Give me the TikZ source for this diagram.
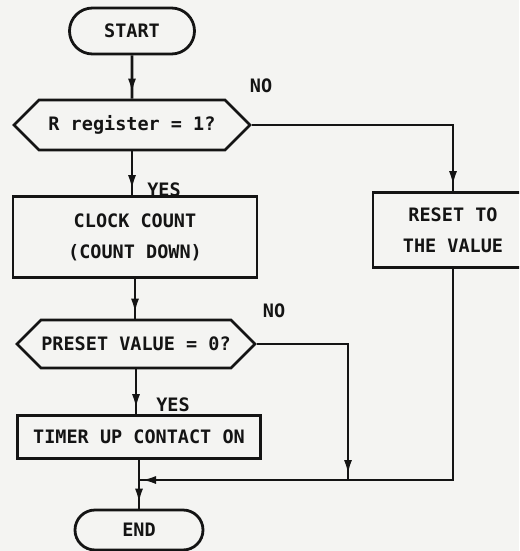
\documentclass[tikz,border=0pt]{standalone}
\usepackage{fontspec}
\newfontfamily\dm{DejaVu Sans Mono}
\usetikzlibrary{arrows.meta,decorations.markings,shapes.misc,shapes.symbols}
\definecolor{paper}{RGB}{244,244,242}
\definecolor{ink}{RGB}{20,20,20}
\tikzset{
  every node/.style={font=\dm\bfseries\fontsize{18.5}{31}\selectfont, text=ink},
  box/.style={draw=ink, line width=2.8pt, rectangle, inner sep=0pt, align=center},
  term/.style={draw=ink, line width=2.8pt, rounded rectangle, inner sep=0pt},
  hexa/.style={draw=ink, line width=2.8pt, signal, signal to=west and east, signal pointer angle=90, inner sep=0pt},
  flow/.style={draw=ink, line width=2.8pt, postaction={decorate},
    decoration={markings, mark=at position -5pt with {\arrow{Latex[length=15pt,width=8pt]}}}},
  flowend/.style={draw=ink, line width=2.8pt, postaction={decorate},
    decoration={markings, mark=at position -2pt with {\arrow{Latex[length=15pt,width=8pt]}}}},
  lbl/.style={inner sep=0pt}
}
\begin{document}
\begin{tikzpicture}[x=1pt,y=-1pt]
\useasboundingbox (0,0) rectangle (519,551);
\clip (0,0) rectangle (519,551);
\fill[paper] (0,0) rectangle (519,551);

\node[term, minimum width=125, minimum height=46] (start) at (132,31) {START};
\node[hexa, minimum width=236, minimum height=50] (d1) at (132,125) {R register = 1?};
\node[box, minimum width=244, minimum height=81] (clock) at (135,237) {CLOCK COUNT\\(COUNT DOWN)};
\node[box, minimum width=160, minimum height=75] (reset) at (453,230) {RESET TO\\THE VALUE};
\node[hexa, minimum width=238, minimum height=48] (d2) at (136,344) {PRESET VALUE = 0?};
\node[box, minimum width=243, minimum height=43] (timer) at (139,437) {TIMER UP CONTACT ON};
\node[term, minimum width=128, minimum height=40] (endn) at (139,530) {END};

\node[lbl] (no1) at (261,86) {NO};
\node[lbl] (yes1) at (164,190) {YES};
\node[lbl] (no2) at (274,311) {NO};
\node[lbl] (yes2) at (173,405) {YES};

\coordinate (m) at (348,480);
\coordinate (j) at (timer.south |- m);

\draw[flow] (start) -- (d1);
\draw[flow] (d1.south) -- (d1.south |- clock.north);
\draw[flow] (d1.east) -| (reset.north);
\draw[flow] (clock.south) -- (clock.south |- d2.north);
\draw[flow] (d2.south) -- (d2.south |- timer.north);
\draw[flow] (d2.east) -| (m);
\draw[flowend] (reset.south) |- (j);
\draw[flow] (timer.south) -- (endn.north);
\end{tikzpicture}
\end{document}
